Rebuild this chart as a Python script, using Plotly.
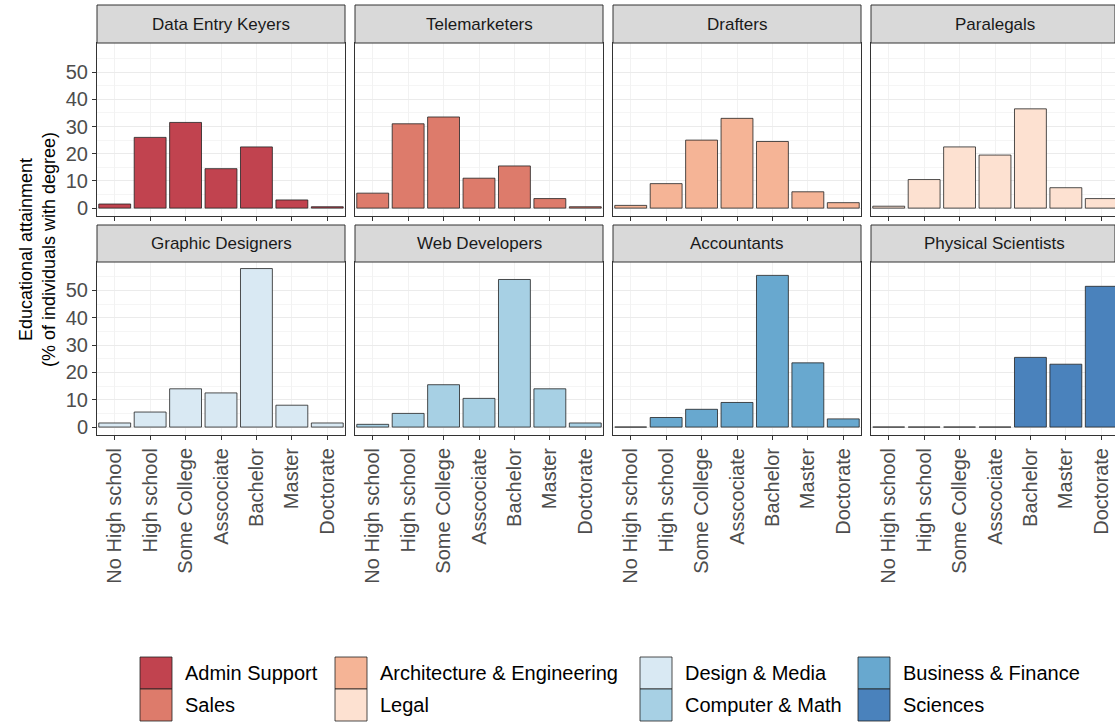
import plotly.graph_objects as go

levels = ["No High school", "High school", "Some College", "Asscociate", "Bachelor", "Master", "Doctorate"]
occupations = ["Data Entry Keyers", "Telemarketers", "Drafters", "Paralegals",
               "Graphic Designers", "Web Developers", "Accountants", "Physical Scientists"]
groups = ["Admin Support", "Sales", "Architecture & Engineering", "Legal",
          "Design & Media", "Computer & Math", "Business & Finance", "Sciences"]
colors = ["#C1434F", "#DD7B6B", "#F5B496", "#FDE1D1", "#D9E9F3", "#A7D0E4", "#68A8CF", "#4A82BC"]

data_entry = [1.5, 26, 31.5, 14.5, 22.5, 3, 0.5]
telemarketers = [5.5, 31, 33.5, 11, 15.5, 3.5, 0.5]
drafters = [1, 9, 25, 33, 24.5, 6, 2]
paralegals = [0.7, 10.5, 22.5, 19.5, 36.5, 7.5, 3.5]
graphic = [1.5, 5.5, 14, 12.5, 58, 8, 1.5]
web = [1, 5, 15.5, 10.5, 54, 14, 1.5]
accountants = [0, 3.5, 6.5, 9, 55.5, 23.5, 3]
scientists = [0, 0, 0, 0, 25.5, 23, 51.5]
values = [data_entry, telemarketers, drafters, paralegals, graphic, web, accountants, scientists]

W, H = 1115, 722
fig = go.Figure()
shapes, annos = [], []
for i, (occ, vals) in enumerate(zip(occupations, values)):
    r, c = divmod(i, 4)
    ax = "" if i == 0 else str(i + 1)
    x0 = (97 + 258 * c) / W
    x1 = min((345 + 258 * c) / W, 1.0)
    if r == 0:
        yb, yt, st = 216, 43, 5
        yr = [-2.9, 60.7]
    else:
        yb, yt, st = 435, 262, 225
        yr = [-2.9, 60.4]
    fig.add_trace(go.Bar(x=levels, y=vals, marker=dict(color=colors[i], line=dict(color="#222", width=0.8)),
                         width=0.9, xaxis="x" + ax, yaxis="y" + ax, showlegend=False))
    xr_end = 6.5 if x1 < 1.0 else -0.5 + 7 * (W - (97 + 258 * c)) / 248
    fig.layout["xaxis" + ax] = dict(domain=[x0, x1], anchor="y" + ax, range=[-0.5, xr_end],
                                    showticklabels=(r == 1), tickangle=-90, ticks="outside",
                                    tickcolor="#333", ticklen=4, tickfont=dict(size=20, color="#4d4d4d"),
                                    showgrid=True, gridcolor="#f2f2f2", showline=True, mirror=True,
                                    linecolor="#333", linewidth=1, fixedrange=True, automargin=False)
    fig.layout["yaxis" + ax] = dict(domain=[1 - yb / H, 1 - yt / H], anchor="x" + ax, range=yr,
                                    tickvals=[0, 10, 20, 30, 40, 50], showticklabels=(c == 0),
                                    ticks="outside" if c == 0 else "", tickcolor="#333", ticklen=4,
                                    tickfont=dict(size=20, color="#4d4d4d"), automargin=False,
                                    showgrid=True, gridcolor="#ebebeb", showline=True, mirror=True,
                                    linecolor="#333", linewidth=1, zeroline=False,
                                    minor=dict(tickvals=[5, 15, 25, 35, 45, 55], showgrid=True, gridcolor="#f5f5f5"))
    shapes.append(dict(type="rect", xref="paper", yref="paper", x0=x0, x1=x1, y0=1 - yt / H, y1=1 - st / H,
                       fillcolor="#d9d9d9", line=dict(color="#333", width=1)))
    xc = (x0 + (345 + 258 * c) / W) / 2
    annos.append(dict(text=occ, xref="paper", yref="paper", x=xc, y=1 - (yt + st) / 2 / H,
                      xanchor="center", yanchor="middle", showarrow=False, font=dict(size=17, color="#1a1a1a")))

annos.append(dict(text="Educational attainment<br>(% of individuals with degree)", xref="paper", yref="paper",
                  x=37 / W, y=1 - 250 / H, xanchor="center", yanchor="middle", textangle=-90,
                  showarrow=False, font=dict(size=18, color="#000")))

# legend
col_x = [140, 335, 640, 858]
row_y = [657, 689]
for k, g in enumerate(groups):
    c, r = divmod(k, 2)
    x, y = col_x[c], row_y[r]
    shapes.append(dict(type="rect", xref="paper", yref="paper", x0=x / W, x1=(x + 32) / W,
                       y0=1 - (y + 32) / H, y1=1 - y / H, fillcolor=colors[k], line=dict(color="#222", width=0.8)))
    annos.append(dict(text=g, xref="paper", yref="paper", x=(x + 43) / W, y=1 - (y + 16) / H,
                      xanchor="left", yanchor="middle", showarrow=False, font=dict(size=20, color="#000")))

fig.update_layout(width=W, height=H, margin=dict(l=0, r=0, t=0, b=0, autoexpand=False), plot_bgcolor="white",
                  paper_bgcolor="white", shapes=shapes, annotations=annos, bargap=0.1,
                  font=dict(family="Liberation Sans, Arial, sans-serif"))
fig.write_html("out.html", config={"displayModeBar": False},
               post_script="document.body.style.margin='0';document.body.style.overflow='hidden';")
